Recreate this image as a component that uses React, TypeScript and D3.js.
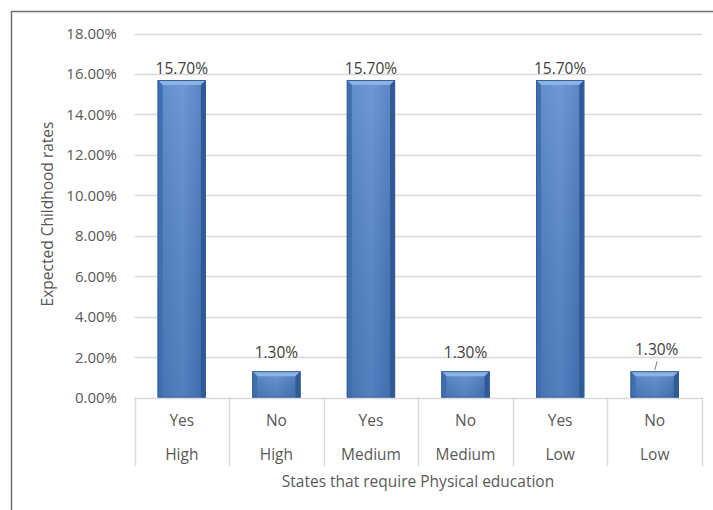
import React, { useEffect, useRef } from 'react';
import * as d3 from 'd3';

const answers = ['Yes', 'No', 'Yes', 'No', 'Yes', 'No'];
const levels = ['High', 'High', 'Medium', 'Medium', 'Low', 'Low'];
const rates = [15.7, 1.3, 15.7, 1.3, 15.7, 1.3];
const yTicks = [0, 2, 4, 6, 8, 10, 12, 14, 16, 18];

const W = 713;
const H = 510;
const FONT = '"Open Sans", "Noto Sans", sans-serif';

const App: React.FC = () => {
  const svgRef = useRef<SVGSVGElement | null>(null);

  useEffect(() => {
    const svgEl = svgRef.current;
    if (!svgEl) return;
    const svg = d3.select(svgEl);
    svg.selectAll('*').remove();

    const left = 134.5;
    const right = 702;
    const top = 33.5;
    const bottom = 397.5;

    const idx = rates.map((_, i) => i);
    const x = d3.scaleBand<number>().domain(idx).range([left, right]).paddingInner(0.49).paddingOuter(0.245);
    const cat = d3.scaleBand<number>().domain(idx).range([left, right]);
    const y = d3.scaleLinear().domain([0, 18]).range([bottom, top]);

    // background + frame
    svg.append('rect').attr('width', W).attr('height', H).attr('fill', '#fff');
    svg.append('path')
      .attr('d', `M11.5,${H} V11.5 H${W}`)
      .attr('fill', 'none')
      .attr('stroke', '#6f6f6f')
      .attr('stroke-width', 1.5);

    const defs = svg.append('defs');
    const grad = defs.append('linearGradient').attr('id', 'barFill').attr('x1', 0).attr('x2', 1).attr('y1', 0).attr('y2', 0);
    grad.append('stop').attr('offset', '0%').attr('stop-color', '#4a7dc0');
    grad.append('stop').attr('offset', '50%').attr('stop-color', '#5a8bcf');
    grad.append('stop').attr('offset', '100%').attr('stop-color', '#4172b6');
    const vgrad = defs.append('linearGradient').attr('id', 'barShade').attr('x1', 0).attr('x2', 0).attr('y1', 0).attr('y2', 1);
    vgrad.append('stop').attr('offset', '0%').attr('stop-color', '#ffffff').attr('stop-opacity', 0.12);
    vgrad.append('stop').attr('offset', '100%').attr('stop-color', '#000000').attr('stop-opacity', 0.08);

    // gridlines
    svg.append('g')
      .selectAll('line')
      .data(yTicks)
      .join('line')
      .attr('x1', left)
      .attr('x2', right)
      .attr('y1', (d) => Math.round(y(d)) + 0.5)
      .attr('y2', (d) => Math.round(y(d)) + 0.5)
      .attr('stroke', '#d9d9d9')
      .attr('stroke-width', 1.5);

    // y tick labels
    svg.append('g')
      .selectAll('text')
      .data(yTicks)
      .join('text')
      .attr('x', 117)
      .attr('y', (d) => y(d) + 5.5)
      .attr('text-anchor', 'end')
      .attr('font-family', FONT)
      .attr('font-size', 15)
      .attr('fill', '#595959')
      .text((d) => `${d.toFixed(2)}%`);

    // category separators
    const seps = idx.map((i) => cat(i) as number).concat([right]);
    svg.append('g')
      .selectAll('line')
      .data(seps)
      .join('line')
      .attr('x1', (d) => Math.round(d) + 0.5)
      .attr('x2', (d) => Math.round(d) + 0.5)
      .attr('y1', bottom)
      .attr('y2', 466)
      .attr('stroke', '#d9d9d9')
      .attr('stroke-width', 1.5);

    // bars with bevel
    const bw = x.bandwidth();
    const bev = 5;
    const bars = svg.append('g').selectAll('g').data(idx).join('g');
    bars.each(function (i) {
      const g = d3.select(this);
      const x0 = x(i) as number;
      const x1 = x0 + bw;
      const y0 = y(rates[i]);
      const y1 = y(0);
      g.append('rect').attr('x', x0).attr('y', y0).attr('width', bw).attr('height', y1 - y0).attr('fill', 'url(#barFill)');
      g.append('rect').attr('x', x0).attr('y', y0).attr('width', bw).attr('height', y1 - y0).attr('fill', 'url(#barShade)');
      // top bevel
      g.append('polygon')
        .attr('points', `${x0},${y0} ${x1},${y0} ${x1 - bev},${y0 + bev} ${x0 + bev},${y0 + bev}`)
        .attr('fill', '#8db3e6');
      // left bevel
      g.append('polygon')
        .attr('points', `${x0},${y0} ${x0 + bev},${y0 + bev} ${x0 + bev},${y1} ${x0},${y1}`)
        .attr('fill', '#3f6faf');
      // right bevel
      g.append('polygon')
        .attr('points', `${x1},${y0} ${x1 - bev},${y0 + bev} ${x1 - bev},${y1} ${x1},${y1}`)
        .attr('fill', '#2f5a95');
      g.append('rect').attr('x', x0 + 0.5).attr('y', y0 + 0.5).attr('width', bw - 1).attr('height', y1 - y0 - 1)
        .attr('fill', 'none').attr('stroke', '#34609c').attr('stroke-width', 1);
    });

    // data labels (last one lifted with a leader line)
    const lift = (i: number) => (i === 5 ? 16 : rates[i] > 10 ? 6 : 13);
    svg.append('g')
      .selectAll('text')
      .data(idx)
      .join('text')
      .attr('x', (i) => (x(i) as number) + bw / 2 + (i === 5 ? 2 : 0))
      .attr('y', (i) => y(rates[i]) - lift(i))
      .attr('text-anchor', 'middle')
      .attr('font-family', FONT)
      .attr('font-size', 15.5)
      .attr('fill', '#404040')
      .text((i) => `${rates[i].toFixed(2)}%`);
    const li = 5;
    const lx = (x(li) as number) + bw / 2;
    svg.append('line')
      .attr('x1', lx).attr('y1', y(rates[li]) - 1)
      .attr('x2', lx + 2.5).attr('y2', y(rates[li]) - 10)
      .attr('stroke', '#7f7f7f').attr('stroke-width', 1);

    // category labels (two rows)
    const rows = svg.append('g').attr('font-family', FONT).attr('font-size', 15.5).attr('fill', '#595959').attr('text-anchor', 'middle');
    rows.selectAll('text.ans')
      .data(idx)
      .join('text')
      .attr('class', 'ans')
      .attr('x', (i) => (cat(i) as number) + cat.bandwidth() / 2)
      .attr('y', 425.5)
      .text((i) => answers[i]);
    rows.selectAll('text.lvl')
      .data(idx)
      .join('text')
      .attr('class', 'lvl')
      .attr('x', (i) => (cat(i) as number) + cat.bandwidth() / 2)
      .attr('y', 459.5)
      .text((i) => levels[i]);

    // axis titles
    svg.append('text')
      .attr('x', 418)
      .attr('y', 487)
      .attr('text-anchor', 'middle')
      .attr('font-family', FONT)
      .attr('font-size', 15.5)
      .attr('fill', '#595959')
      .text('States that require Physical education');

    svg.append('text')
      .attr('transform', `translate(53,214) rotate(-90)`)
      .attr('text-anchor', 'middle')
      .attr('font-family', FONT)
      .attr('font-size', 15.5)
      .attr('fill', '#595959')
      .text('Expected Childhood rates');
  }, []);

  return (
    <svg
      ref={svgRef}
      width={W}
      height={H}
      style={{ position: 'absolute', left: 0, top: 0, display: 'block' }}
      role="img"
      aria-label="Expected childhood rates bar chart"
    />
  );
};

export default App;
